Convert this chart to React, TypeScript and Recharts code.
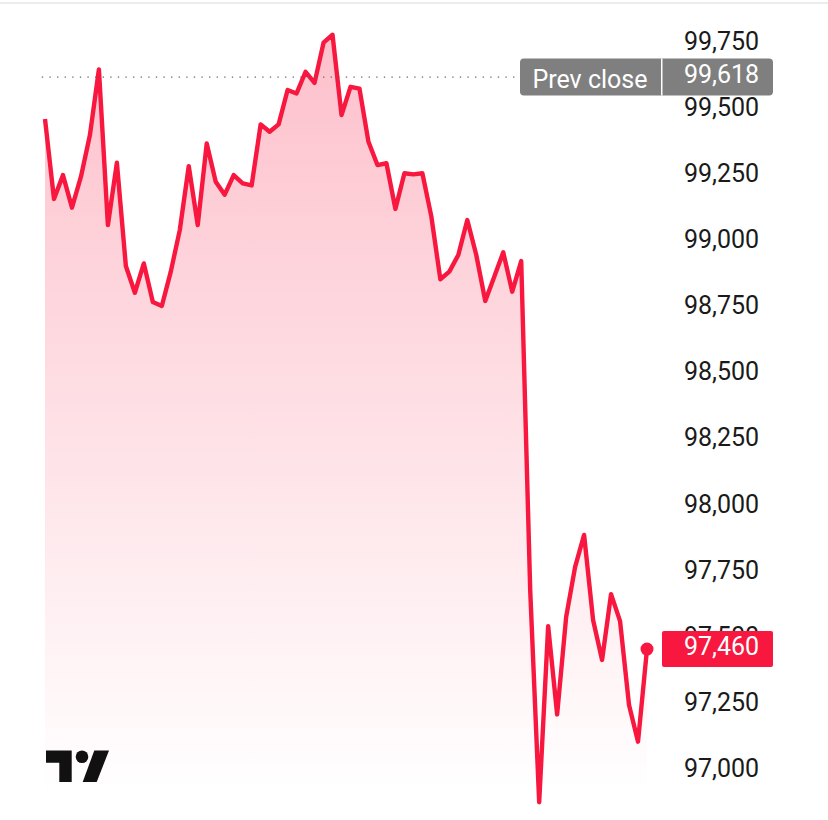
import React from "react";
import { ComposedChart, Area, XAxis, YAxis, ReferenceLine, ReferenceDot } from "recharts";

const PRICES = [
  99451, 99149, 99239, 99116, 99233, 99391, 99639, 99050, 99286, 98895,
  98794, 98905, 98759, 98744, 98874, 99031, 99273, 99050, 99359, 99214,
  99165, 99239, 99208, 99200, 99431, 99403, 99431, 99561, 99548, 99630,
  99588, 99740, 99770, 99466, 99573, 99566, 99365, 99277, 99284, 99111,
  99246, 99242, 99246, 99082, 98845, 98874, 98937, 99069, 98937, 98763,
  98855, 98947, 98798, 98914, 97670, 96867, 97533, 97199, 97567, 97757,
  97878, 97556, 97405, 97654, 97552, 97235, 97096, 97446,
];
const Y_TICKS = [97000, 97250, 97500, 97750, 98000, 98250, 98500, 98750, 99000, 99250, 99500, 99750];
const Y_DOMAIN = [96800, 99850];
const PREV_CLOSE = 99618;
const PREV_CLOSE_LEVEL = 99610;
const LAST_PRICE = 97460;
const LAST_LEVEL = 97446;
const PREV_LABEL = "Prev close";

const RED = "#f7173f";
const GREY = "#7f7f7f";
const FONT = "Roboto, sans-serif";
const fmt = (v: number) => v.toLocaleString("en-US");
const rows = PRICES.map((price, i) => ({ i, price }));
const lastIndex = PRICES.length - 1;

function PrevBadge({ viewBox }: any) {
  const cy = viewBox.y;
  return (
    <g>
      <rect x={520} y={cy - 18.5} width={253} height={37} rx={4} fill={GREY} />
      <rect x={661} y={cy - 18.5} width={1.5} height={37} fill="#fff" />
      <text x={590} y={cy + 2.5} textAnchor="middle" dominantBaseline="central" fontFamily={FONT} fontSize={25} fill="#fff">{PREV_LABEL}</text>
      <text x={684} y={cy - 2.5} dominantBaseline="central" fontFamily={FONT} fontSize={25} fill="#fff">{fmt(PREV_CLOSE)}</text>
    </g>
  );
}

function LastBadge({ viewBox }: any) {
  const cy = viewBox.y;
  return (
    <g>
      <rect x={662} y={cy - 18} width={111} height={36} rx={2} fill={RED} />
      <text x={684} y={cy - 3} dominantBaseline="central" fontFamily={FONT} fontSize={25} fill="#fff">{fmt(LAST_PRICE)}</text>
    </g>
  );
}

export default function App() {
  const margin = { top: 13.6, right: 0, bottom: 0.1, left: 45 };
  return (
    <div style={{ position: "absolute", left: 0, top: 0, width: 828, height: 820, background: "#fff", overflow: "hidden" }}>
      <div style={{ position: "absolute", left: 0, top: 2, width: 828, height: 2, background: "#ececec" }} />
      <div style={{ position: "absolute", left: 0, top: 0 }}>
        <ComposedChart width={828} height={820} data={rows} margin={margin}>
          <defs>
            <linearGradient id="fade" gradientUnits="userSpaceOnUse" x1="0" y1="35" x2="0" y2="795">
              <stop offset="0" stopColor="#fdc0cb" />
              <stop offset="1" stopColor="#ffffff" />
            </linearGradient>
          </defs>
          <XAxis dataKey="i" type="number" domain={[0, lastIndex]} hide />
          <YAxis
            orientation="right"
            width={181}
            domain={Y_DOMAIN}
            ticks={Y_TICKS}
            interval={0}
            axisLine={false}
            tickLine={false}
            tickMargin={31}
            tickFormatter={fmt}
            tick={{ fill: "#1a1a1a", fontFamily: FONT, fontSize: 25, textAnchor: "start", dy: 1 }}
          />
          <Area
            dataKey="price"
            type="linear"
            stroke={RED}
            strokeWidth={4.4}
            strokeLinejoin="round"
            fill="url(#fade)"
            fillOpacity={1}
            dot={false}
            activeDot={false}
            isAnimationActive={false}
          />
          <ReferenceLine
            segment={[{ x: -0.35, y: PREV_CLOSE_LEVEL }, { x: 53, y: PREV_CLOSE_LEVEL }]}
            ifOverflow="visible"
            stroke="#666"
            strokeWidth={1.3}
            strokeDasharray="1.3 6.3"
          />
          <ReferenceDot x={lastIndex} y={LAST_LEVEL} r={6.5} fill={RED} stroke="none" ifOverflow="visible" />
        </ComposedChart>
      </div>
      <div style={{ position: "absolute", left: 0, top: 0 }}>
        <ComposedChart width={828} height={820} data={rows} margin={{ ...margin, right: 181 }}>
          <XAxis dataKey="i" type="number" domain={[0, lastIndex]} hide />
          <YAxis orientation="right" width={0} domain={Y_DOMAIN} ticks={Y_TICKS} hide />
          <Area dataKey="price" stroke="none" fill="none" dot={false} activeDot={false} isAnimationActive={false} />
          <ReferenceLine y={PREV_CLOSE_LEVEL} stroke="#ffffff" strokeOpacity={0} ifOverflow="visible" label={<PrevBadge />} />
          <ReferenceLine y={LAST_LEVEL} stroke="#ffffff" strokeOpacity={0} ifOverflow="visible" label={<LastBadge />} />
        </ComposedChart>
      </div>
      <svg width={70} height={40} viewBox="0 0 70 40" style={{ position: "absolute", left: 44, top: 746 }}>
        <path d="M2 4.5H27.7V36H15.3V16.7H2Z" fill="#111" />
        <circle cx={38} cy={10.7} r={6.3} fill="#111" />
        <path d="M50.3 4.5H65L52.7 36H38.7Z" fill="#111" />
      </svg>
    </div>
  );
}
